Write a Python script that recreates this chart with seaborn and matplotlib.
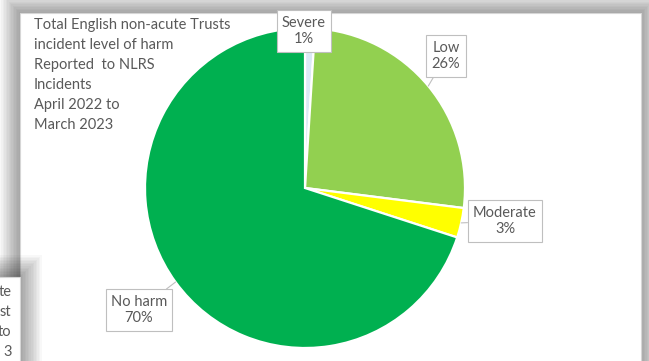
import numpy as np
import matplotlib
matplotlib.use("Agg")
import matplotlib.pyplot as plt
from matplotlib.patches import Rectangle
import seaborn as sns

# Incident level of harm, share of reported incidents (%)
categories = ["Severe", "Low", "Moderate", "No harm"]
shares = [1, 26, 3, 70]
slice_colours = ["#dbe9f6", "#92d050", "#ffff00", "#00b050"]

title_lines = [
    "Total English non-acute Trusts",
    "incident level of harm",
    "Reported  to NLRS",
    "Incidents",
    "April 2022 to",
    "March 2023",
]
# Tail ends of the neighbouring chart's title that peek in at the left
neighbour_fragments = ["te", "st", "to", "3"]

sns.set_theme(style="white")
plt.rcParams["font.family"] = ["Lato", "DejaVu Sans"]

TEXT = "#595959"
FS = 10.5
W, H = 649, 361
fig = plt.figure(figsize=(W / 100, H / 100), dpi=100)
fig.patch.set_facecolor("white")

# Pixel-space canvas for the chart frames and free text
bg = fig.add_axes([0, 0, 1, 1], zorder=0)
bg.set_xlim(0, W)
bg.set_ylim(H, 0)
bg.axis("off")


def framed_box(ax, x0, y0, x1, y1, spread, layers, alpha, z):
    """White chart-area box with a soft grey drop shadow."""
    for i in range(layers, 0, -1):
        d = spread * i / layers
        ax.add_patch(Rectangle((x0 - d, y0 - d), (x1 - x0) + 2 * d, (y1 - y0) + 2 * d,
                               fc="black", ec="none", alpha=alpha, zorder=z))
    ax.add_patch(Rectangle((x0, y0), x1 - x0, y1 - y0, fc="white",
                           ec="#d6d6d6", lw=0.8, zorder=z + 0.5))


framed_box(bg, 20, 13, 641, 420, spread=20, layers=14, alpha=0.026, z=1)
framed_box(bg, -60, 277, 20, 430, spread=22, layers=14, alpha=0.026, z=3)

for i, frag in enumerate(neighbour_fragments):
    bg.text(11.5, 296 + 20 * i, frag, ha="right", va="baseline",
            fontsize=FS, color=TEXT, zorder=5)

for i, line in enumerate(title_lines):
    bg.text(34, 29 + 20 * i, line, ha="left", va="baseline",
            fontsize=FS, color=TEXT, zorder=5)

# Pie axes: centre (305, 188) px, radius 160 px
cx, cy, r = 305, 188, 160
ax = fig.add_axes([(cx - r) / W, (H - cy - r) / H, 2 * r / W, 2 * r / H], zorder=2)
ax.patch.set_alpha(0)
wedges, _ = ax.pie(shares, colors=slice_colours, startangle=90, counterclock=False,
                   radius=1, wedgeprops=dict(edgecolor="white", linewidth=1.6))
ax.set_xlim(-1, 1)
ax.set_ylim(-1, 1)
ax.set_aspect("equal")
ax.axis("off")

# Data-label box centres (pixels) and whether a leader line is drawn
label_boxes = {
    "Severe": ((304, 31), False),
    "Low": ((446, 56), True),
    "Moderate": ((505, 221), True),
    "No harm": ((139, 310), True),
}

for w, cat, val in zip(wedges, categories, shares):
    (tx, ty), leader = label_boxes[cat]
    mid = np.deg2rad((w.theta1 + w.theta2) / 2)
    tip = (np.cos(mid), np.sin(mid))
    ax.annotate(f"{cat}\n{val}%", xy=tip, xycoords="data",
                xytext=(tx, ty), textcoords=bg.transData,
                ha="center", va="center", multialignment="center",
                fontsize=FS, color=TEXT, linespacing=1.25,
                bbox=dict(boxstyle="square,pad=0.36", fc="white", ec="#bfbfbf", lw=0.8),
                arrowprops=(dict(arrowstyle="-", color="#bfbfbf", lw=0.8,
                                 shrinkA=0, shrinkB=0) if leader else None),
                annotation_clip=False, zorder=6)

fig.savefig("out.png", dpi=100, facecolor=fig.get_facecolor())
